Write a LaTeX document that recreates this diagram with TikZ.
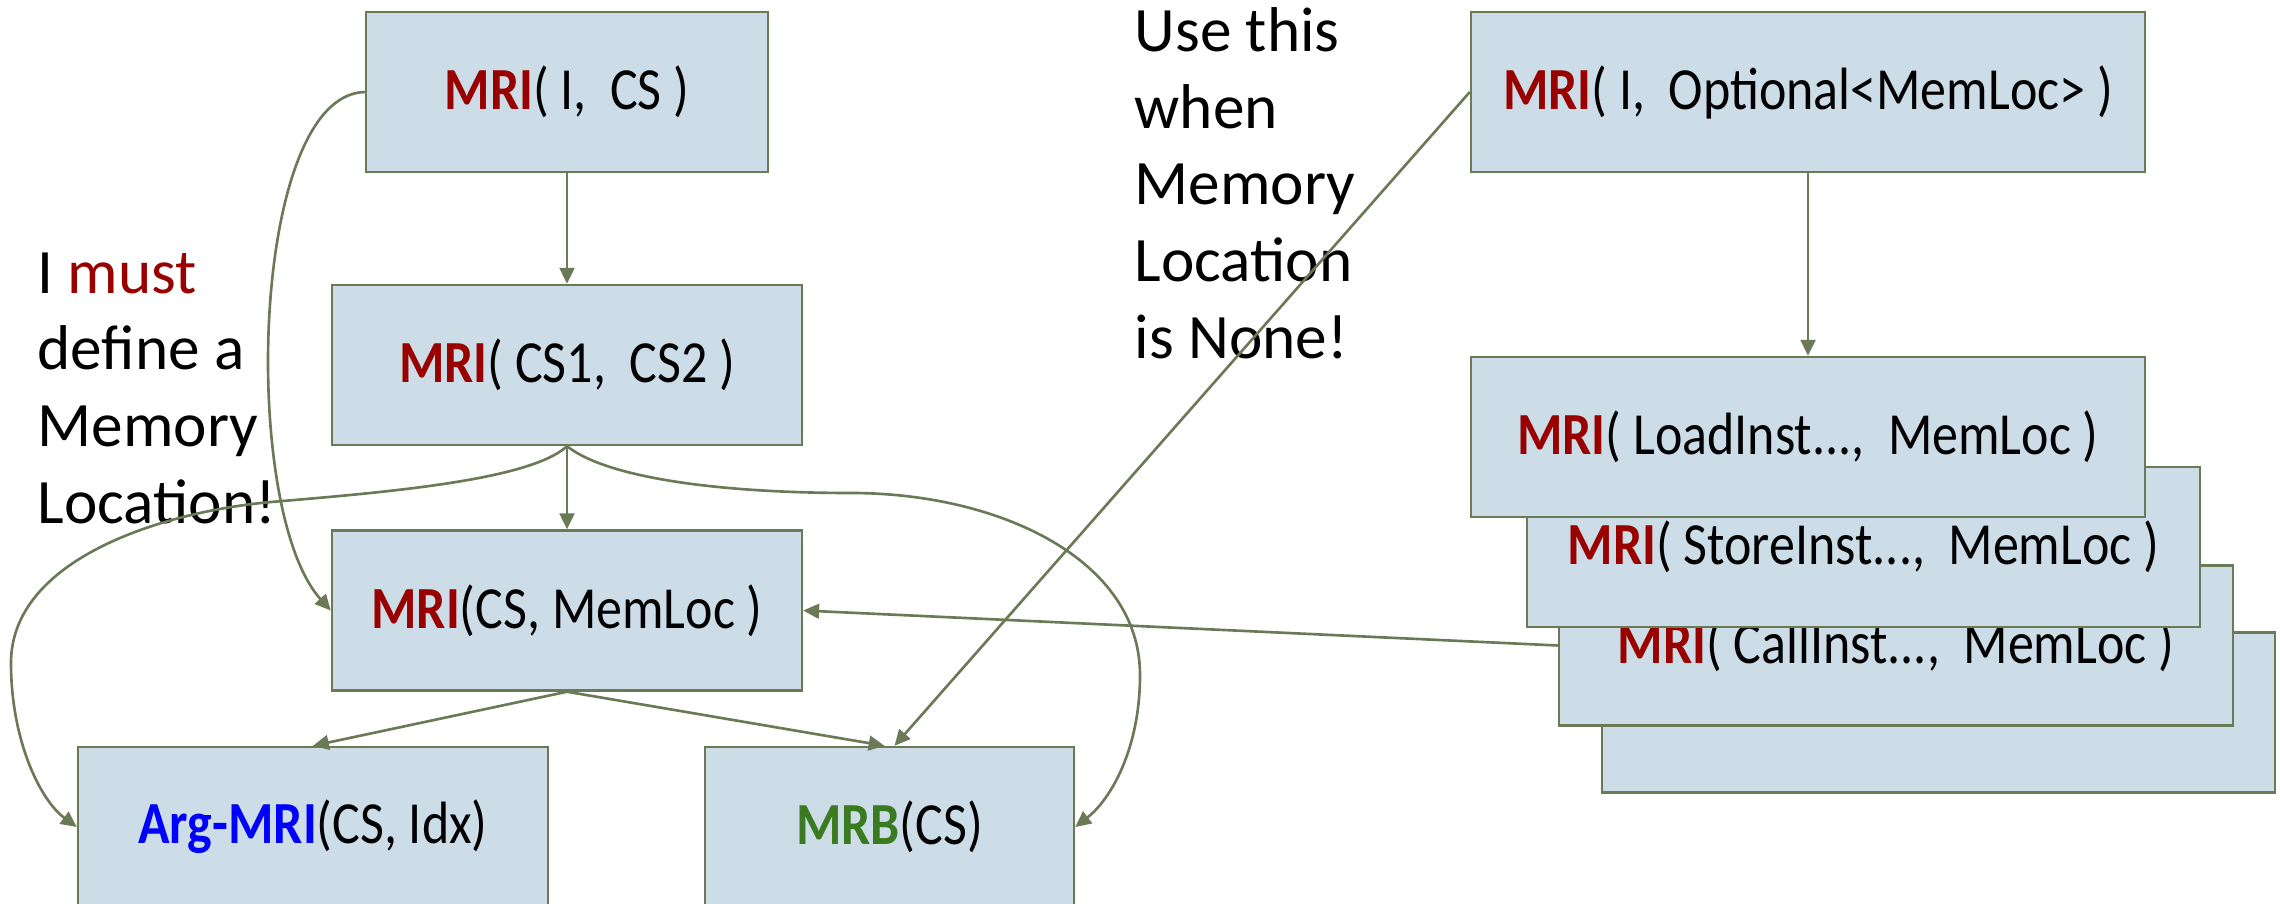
\documentclass[tikz,border=0pt]{standalone}
\usepackage{fontspec}
\setmainfont{Carlito}
\newfontfamily\boxfont{Carlito}[FakeStretch=0.87]
\usetikzlibrary{arrows.meta, positioning}
\definecolor{linkgreen}{HTML}{6A7A56}
\definecolor{boxblue}{HTML}{CCDDE8}
\definecolor{mrired}{HTML}{990000}
\definecolor{argblue}{HTML}{0000FF}
\definecolor{mrbgreen}{HTML}{3A7A20}
\tikzset{
  box/.style={draw=linkgreen, fill=boxblue, line width=0.7pt, minimum height=1.6cm, inner sep=0pt,
    font=\boxfont\fontsize{17}{20}\selectfont},
  link/.style={draw=linkgreen, line width=0.75pt, ->},
  note/.style={align=left, inner sep=0pt, font=\fontsize{18}{21.8}\selectfont}
}
\newcommand{\mri}{\textcolor{mrired}{\textbf{MRI}}}

\begin{document}
\begin{tikzpicture}[>={Triangle[length=4.5pt,width=4.2pt]}]
  \useasboundingbox (0,0) rectangle (22.8,-9.04);
  \clip (0,0) rectangle (22.8,-9.04);
  \node[box, minimum width=4.02cm] (ics) at (5.67,-0.92) {\mri( I,\ \ CS )};
  \node[box, minimum width=4.70cm] (cscs) at (5.67,-3.65) {\mri( CS1,\ \ CS2 )};
  \node[box, minimum width=4.70cm] (csloc) at (5.67,-6.105) {\mri(CS, MemLoc )};
  \node[box, minimum width=4.70cm] (argmri) at (3.13,-8.27) {\textcolor{argblue}{\textbf{Arg-MRI}}(CS, Idx)};
  \node[box, minimum width=3.69cm] (mrb) at (8.895,-8.27) {\textcolor{mrbgreen}{\textbf{MRB}}(CS)};
  \node[box, minimum width=6.74cm] (optloc) at (18.08,-0.92) {\mri( I,\ \ Optional<MemLoc> )};
  \node[box, minimum width=6.73cm] (backbox) at (19.385,-7.125) {};
  \node[box, minimum width=6.74cm] (callinst) at (18.96,-6.455) {\mri( CallInst...,\ \ MemLoc )};
  \node[box, minimum width=6.73cm] (storeinst) at (18.635,-5.47) {\mri( StoreInst...,\ \ MemLoc )};
  \node[box, minimum width=6.74cm] (loadinst) at (18.08,-4.37) {\mri( LoadInst...,\ \ MemLoc )};
  \node[note, anchor=north west] (mustnote) at (0.37,-2.52) {I \textcolor{mrired}{must}\\define a\\Memory\\Location!};
  \node[note, anchor=north west] (nonenote) at (11.34,-0.07) {Use this\\when\\Memory\\Location\\is None!};
  \draw[link] (ics) -- (cscs);
  \draw[link] (cscs) -- (csloc);
  \draw[link] (optloc) -- (loadinst);
  \draw[link] (csloc.south) -- (argmri.north);
  \draw[link] (csloc.south) -- ([xshift=-0.05cm]mrb.north);
  \draw[link] (optloc.west) -- ([xshift=0.05cm]mrb.north);
  \draw[link] (callinst.west) -- (csloc.east);
  \draw[link] (ics.west) .. controls (2.5,-0.95) and (2.4,-5.1) .. (csloc.west);
  \draw[link] (cscs.south) .. controls (5.3,-4.8) and (3.9,-4.92) .. (2.71,-5.02)
    .. controls (1.6,-5.12) and (0.11,-5.6) .. (0.11,-6.63)
    .. controls (0.11,-7.4) and (0.4,-8.0) .. (argmri.west);
  \draw[link] (cscs.south) .. controls (6.1,-4.8) and (7.3,-4.93) .. (8.51,-4.93)
    .. controls (10.0,-4.93) and (11.4,-5.6) .. (11.4,-6.75)
    .. controls (11.4,-7.5) and (11.1,-8.0) .. (mrb.east);
\end{tikzpicture}
\end{document}
